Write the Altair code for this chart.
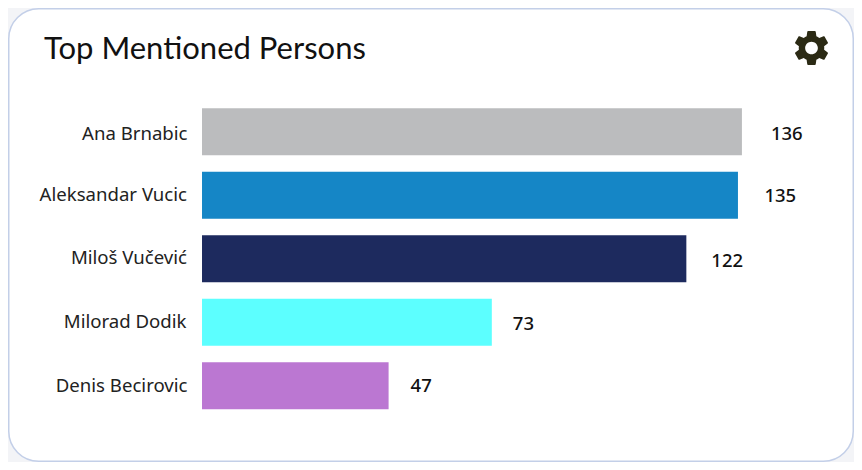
import altair as alt
import pandas as pd

NAMES = ["Ana Brnabic", "Aleksandar Vucic", "Miloš Vučević", "Milorad Dodik", "Denis Becirovic"]
VALUES = [136, 135, 122, 73, 47]
COLORS = ["#bbbcbe", "#1586c6", "#1d2a5e", "#5cffff", "#bb77d2"]
TITLE = "Top Mentioned Persons"

# per-label nudges (style only)
NAME_NUDGE = [(0.5, 2), (0, -0.5), (0, -0.5), (-0.5, -0.5), (0.5, 0.5)]
VALUE_NUDGE = [(29, 2), (26.5, 1), (25, 2.5), (21, 1.5), (22, 0)]

GEAR = (
    "M7.14,0.94c0.04-0.3,0.06-0.61,0.06-0.94c0-0.32-0.02-0.64-0.07-0.94l2.03-1.58c0.18-0.14,0.23-0.41,0.12-0.61"
    "l-1.92-3.32c-0.12-0.22-0.37-0.29-0.59-0.22l-2.39,0.96c-0.5-0.38-1.03-0.7-1.62-0.94L2.4,-9.19"
    "c-0.04-0.24-0.24-0.41-0.48-0.41h-3.84c-0.24,0-0.43,0.17-0.47,0.41L-2.75,-6.65"
    "C-3.34,-6.41,-3.88,-6.08,-4.37,-5.71L-6.76,-6.67c-0.22-0.08-0.47,0-0.59,0.22L-9.26,-3.13"
    "C-9.38,-2.92,-9.34,-2.66,-9.14,-2.52l2.03,1.58C-7.16,-0.64,-7.2,-0.31,-7.2,0s0.02,0.64,0.07,0.94l-2.03,1.58"
    "c-0.18,0.14-0.23,0.41-0.12,0.61l1.92,3.32c0.12,0.22,0.37,0.29,0.59,0.22l2.39-0.96c0.5,0.38,1.03,0.7,1.62,0.94"
    "l0.36,2.54c0.05,0.24,0.24,0.41,0.48,0.41h3.84c0.24,0,0.44-0.17,0.47-0.41l0.36-2.54c0.59-0.24,1.13-0.56,1.62-0.94"
    "l2.39,0.96c0.22,0.08,0.47,0,0.59-0.22l1.92-3.32c0.12-0.22,0.07-0.47-0.12-0.61L7.14,0.94z"
    "M0,3.6c-1.98,0-3.6-1.62-3.6-3.6s1.62-3.6,3.6-3.6s3.6,1.62,3.6,3.6S1.98,3.6,0,3.6z"
)

df = pd.DataFrame({"name": NAMES, "value": VALUES})
FONT = "Noto Sans"

x_enc = alt.X("value:Q", axis=None, stack=None,
              scale=alt.Scale(domain=[-48.87, 164.23], nice=False, zero=False))
y_enc = alt.Y("name:N", axis=None, sort=NAMES,
              scale=alt.Scale(domain=NAMES, range=[92, 409.5], paddingInner=0.26, paddingOuter=0.13))

card = alt.Chart(pd.DataFrame({"a": [0]})).mark_rect(
    fill="white", stroke="#c3cfe8", strokeWidth=1.5, cornerRadius=30
).encode(x=alt.value(0.75), x2=alt.value(845.25), y=alt.value(0.75), y2=alt.value(453.25))

bars = alt.Chart(df).mark_bar().encode(
    x=x_enc, x2=alt.datum(0), y=y_enc,
    color=alt.Color("name:N", legend=None, sort=NAMES, scale=alt.Scale(domain=NAMES, range=COLORS)),
)

layers = [card, bars]
for name, (ndx, ndy), (vdx, vdy) in zip(NAMES, NAME_NUDGE, VALUE_NUDGE):
    sub = alt.Chart(df).transform_filter(alt.datum.name == name)
    layers.append(sub.mark_text(align="right", baseline="middle", font=FONT, fontSize=18.6,
                                color="#222222", dx=ndx, dy=ndy).encode(
        x=alt.value(179), y=y_enc, text="name:N"))
    layers.append(sub.mark_text(align="left", baseline="middle", font=FONT, fontSize=18.5,
                                fontWeight=500, color="#111111", dx=vdx, dy=vdy).encode(
        x=x_enc, y=y_enc, text="value:Q"))

gear = alt.Chart(pd.DataFrame({"a": [0]})).mark_point(
    shape=GEAR, size=12.5, filled=True, fill="#2b2a14", opacity=1, strokeWidth=0
).encode(x=alt.value(803.5), y=alt.value(40))
layers.append(gear)

chart = alt.layer(*layers).properties(
    width=846, height=454,
    autosize=alt.AutoSizeParams(type="none"),
    padding=0,
    background="#f3f4f7",
    title=alt.TitleParams(TITLE, anchor="start", frame="group", dx=36, offset=-57.5, font="Lato",
                          fontSize=31, fontWeight="normal", color="#111111"),
).configure_view(stroke=None).resolve_scale(color="shared")

chart.save("out.html", embed_options={"renderer": "svg", "actions": False})
